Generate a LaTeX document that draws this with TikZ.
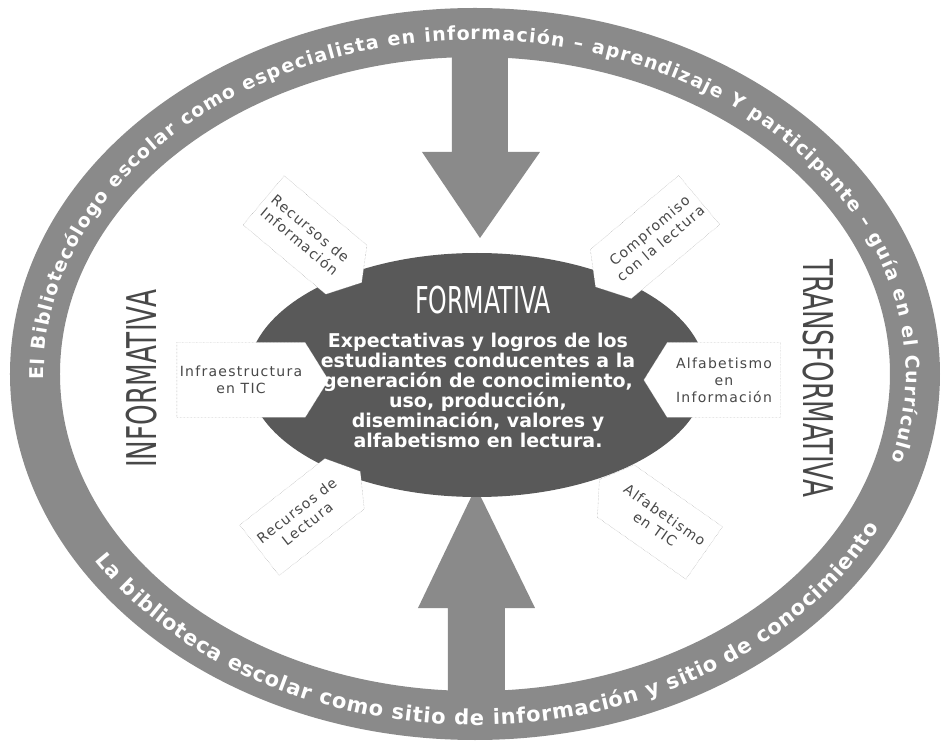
\documentclass[tikz,border=0pt]{standalone}
\usepackage{fontspec}
\setmainfont{DejaVu Sans}
\newfontfamily\condfont[FakeStretch=0.64]{DejaVu Sans}
\newfontfamily\boxfont[LetterSpace=9]{DejaVu Sans}
\usetikzlibrary{shapes.symbols,shapes.geometric,decorations.text}
\definecolor{ringgray}{HTML}{8A8A8A}
\definecolor{centergray}{HTML}{595959}
\definecolor{boxline}{HTML}{9A9A9A}
\definecolor{labelgray}{HTML}{484848}
\tikzset{
  tipbox/.style={shape=signal, signal from=nowhere, signal pointer angle=116,
    draw=boxline, densely dotted, fill=white, align=center, text=labelgray,
    font=\boxfont\fontsize{14}{17}\selectfont, inner sep=3pt},
  bigword/.style={text=#1, font=\condfont\fontsize{41}{41}\selectfont, inner sep=0pt}
}
\begin{document}
\begin{tikzpicture}[x=1pt, y=1pt]
    \useasboundingbox (-475,-370) rectangle (471,374);
    % outer ring
    \fill[ringgray, even odd rule] (0,0) ellipse [x radius=465, y radius=366]
        (0,0) ellipse [x radius=415, y radius=317];
    % big arrows
    \fill[ringgray] (-23,330) -- (-23,222) -- (-53,222) -- (5,136) -- (65,222) -- (33,222) -- (33,330) -- cycle;
    \fill[ringgray] (-27,-330) -- (-27,-234) -- (-57,-234) -- (1,-113) -- (60,-234) -- (30,-234) -- (30,-330) -- cycle;
    % centre
    \node[ellipse, fill=centergray, minimum width=458pt, minimum height=244pt] (centro) at (2,-1) {};
    % boxes
    \node[tipbox, signal to=east, minimum width=137pt, minimum height=75pt] (infra) at (-234,-6) {Infraestructura\\en TIC};
    \node[tipbox, signal to=west, minimum width=137pt, minimum height=75pt] (alfinfo) at (249,-6) {Alfabetismo\\en\\Información};
    \node[tipbox, signal to=east, rotate=-40, minimum width=128pt, minimum height=64pt] (recinfo) at (-170,139) {Recursos de\\Información};
    \node[tipbox, signal to=west, rotate=40, minimum width=128pt, minimum height=64pt] (compro) at (180,137) {Compromiso\\con la lectura};
    \node[tipbox, signal to=east, rotate=38, minimum width=128pt, minimum height=64pt] (reclect) at (-173,-143) {Recursos de\\Lectura};
    \node[tipbox, signal to=west, rotate=-35, minimum width=128pt, minimum height=64pt] (alftic) at (185,-148) {Alfabetismo\\en TIC};
    % words
    \node[bigword=labelgray, rotate=90] (informativa) at (-333,-5) {INFORMATIVA};
    \node[bigword=labelgray, rotate=-90] (transformativa) at (343,-4) {TRANSFORMATIVA};
    \node[text=white, font=\condfont\fontsize{37}{37}\selectfont, inner sep=0pt] (formativa) at (8,74) {FORMATIVA};
    \node[text=white, font=\bfseries\fontsize{19}{20}\selectfont, align=center] (logros) at (3,-16)
        {Expectativas y logros de los\\estudiantes conducentes a la\\generación de conocimiento,\\uso, producción,\\diseminación, valores y\\alfabetismo en lectura.};
    % ring texts
    \path[decorate, decoration={text along path, text align={fit to path},
        text={|\color{white}\bfseries\fontsize{19}{19}\selectfont|El Bibliotecólogo escolar como especialista en información – aprendizaje Y participante – guía en el Currículo}}]
        (181:431 and 334) arc [start angle=181, end angle=-15, x radius=431, y radius=334];
    \path[decorate, decoration={text along path, text align={fit to path},
        text={|\color{white}\bfseries\fontsize{21}{21}\selectfont|La biblioteca escolar como sitio de información y sitio de conocimiento}}]
        (212:449 and 351) arc [start angle=212, end angle=334, x radius=449, y radius=351];
\end{tikzpicture}
\end{document}
